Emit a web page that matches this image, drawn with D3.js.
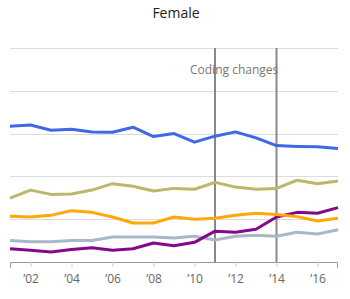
<!DOCTYPE html>
<meta charset="utf-8">
<script src="https://d3js.org/d3.v7.min.js"></script>
<style>
  body { margin: 0; background: #fff; }
  text { font-family: "Open Sans", sans-serif; }
</style>
<div id="my_dataviz"></div>
<script>

// data
var years = d3.range(2001, 2018);
var tickYears = [2002, 2004, 2006, 2008, 2010, 2012, 2014, 2016];
var codingChanges = [2011, 2014];

var blue   = [31.7, 32.0, 30.8, 31.0, 30.4, 30.3, 31.5, 29.3, 30.0, 28.0, 29.4, 30.4, 29.0, 27.2, 27.0, 26.9, 26.5];
var khaki  = [14.9, 16.8, 15.8, 15.9, 16.8, 18.3, 17.7, 16.6, 17.2, 17.0, 18.6, 17.5, 17.0, 17.2, 19.1, 18.3, 18.9];
var orange = [10.7, 10.5, 10.9, 12.0, 11.6, 10.5, 9.1, 9.1, 10.5, 10.0, 10.2, 10.9, 11.4, 11.1, 10.6, 9.6, 10.2];
var grey   = [5.0, 4.75, 4.75, 5.0, 5.0, 5.85, 5.85, 5.85, 5.6, 6.0, 5.15, 6.0, 6.25, 6.0, 6.95, 6.55, 7.55];
var purple = [3.1, 2.75, 2.35, 2.9, 3.35, 2.75, 3.1, 4.45, 3.8, 4.6, 7.2, 6.95, 7.65, 10.5, 11.6, 11.4, 12.7];

var series = [
  {values: grey,   color: "#a7b8cb"},
  {values: purple, color: "#84098a"},
  {values: orange, color: "#ffa80a"},
  {values: khaki,  color: "#bdb76b"},
  {values: blue,   color: "#3f68e6"}
];

var margin = {top: 48, right: 12, bottom: 37, left: 10},
    width = 350 - margin.left - margin.right,
    height = 299 - margin.top - margin.bottom;

var svg = d3.select("#my_dataviz")
  .append("svg")
    .attr("width", 350)
    .attr("height", 299)
  .append("g")
    .attr("transform", "translate(" + margin.left + "," + margin.top + ")");

var x = d3.scaleLinear().domain([2001, 2017]).range([0, width]);
var y = d3.scaleLinear().domain([0, 50]).range([height, 0]);

// title
svg.append("text")
  .attr("x", 166)
  .attr("y", -30)
  .attr("text-anchor", "middle")
  .style("font-size", "14px")
  .style("fill", "#222")
  .text("Female");

// gridlines
svg.append("g")
  .selectAll("line")
  .data(y.ticks(5).filter(function(d) { return d > 0; }))
  .enter().append("line")
    .attr("x1", 0)
    .attr("x2", width)
    .attr("y1", function(d) { return Math.round(y(d)) + 0.5; })
    .attr("y2", function(d) { return Math.round(y(d)) + 0.5; })
    .attr("stroke", "#dcdcdc")
    .attr("stroke-width", 1);

// x axis
var xAxis = svg.append("g")
  .attr("transform", "translate(0," + height + ")")
  .call(d3.axisBottom(x)
    .tickValues(tickYears)
    .tickSize(5)
    .tickFormat(function(d) { return "\u2019" + String(d).slice(2); }));
xAxis.select(".domain").attr("stroke", "#999").attr("d", "M0.5,6V0.5H" + (width - 0.5) + "V6");
xAxis.selectAll(".tick line").attr("stroke", "#ccc");
xAxis.selectAll("text")
  .attr("dy", "1.05em")
  .style("font-family", "Open Sans, sans-serif")
  .style("font-size", "12px")
  .style("fill", "#666");

// coding change markers
svg.append("g")
  .selectAll("line")
  .data(codingChanges)
  .enter().append("line")
    .attr("x1", function(d) { return x(d); })
    .attr("x2", function(d) { return x(d); })
    .attr("y1", 0)
    .attr("y2", height)
    .attr("stroke", "#888")
    .attr("stroke-width", 2);

svg.append("text")
  .attr("x", x(2011) - 25)
  .attr("y", 26)
  .attr("text-anchor", "start")
  .style("font-size", "12px")
  .style("fill", "#777")
  .text("Coding changes");

// lines
var line = d3.line()
  .x(function(d, i) { return x(years[i]); })
  .y(function(d) { return y(d); });

svg.selectAll(".series")
  .data(series)
  .enter().append("path")
    .attr("class", "series")
    .attr("d", function(s) { return line(s.values); })
    .attr("fill", "none")
    .attr("stroke", function(s) { return s.color; })
    .attr("stroke-width", 3)
    .attr("stroke-linejoin", "round");

</script>
